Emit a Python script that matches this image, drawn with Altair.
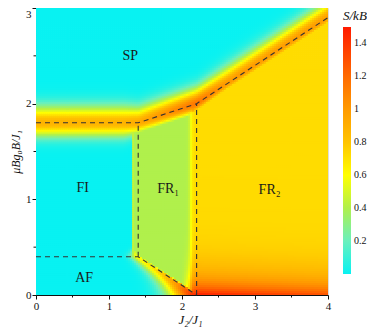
import altair as alt
import numpy as np
import pandas as pd

alt.data_transformers.disable_max_rows()

# ---------------- values ----------------
# dashed phase boundaries (J2/J1, mu_B g0 B / J1)
UPPER_X = [0.0, 1.4, 2.2, 4.0]
UPPER_Y = [1.8, 1.8, 2.0, 2.9]
LOWER_X = [0.0, 1.4, 2.2]
LOWER_Y = [0.4, 0.4, 0.0]
VERT_X = [1.4, 2.2]
VERT_Y0 = [0.4, 0.0]
VERT_Y1 = [1.8, 2.0]

# colour edges of the plateaus
EDGE_FI_FR1 = 1.335
EDGE_FR1_FR2 = 2.12

# entropy plateaus (S/kB)
LEVEL_FR1 = 0.40
LEVEL_FR2 = 0.72

# ridge along the upper (saturation) boundary
RIDGE_UP_X = [0.0, 1.2, 1.4, 2.2, 2.6, 4.0]
RIDGE_UP_A = [0.88, 0.88, 0.92, 1.15, 1.0, 0.98]
RIDGE_UP_SA = [0.17, 0.17, 0.16, 0.16, 0.17, 0.17]
RIDGE_UP_SB = [0.14, 0.14, 0.11, 0.10, 0.09, 0.09]

# ridge along the AF / FR1 diagonal
DIAG_Y = [0.0, 0.1, 0.2, 0.3, 0.4]
DIAG_A = [1.45, 1.08, 0.84, 0.70, 0.62]
DIAG_SL = [0.34, 0.27, 0.21, 0.16, 0.11]
DIAG_SR = 0.045

# rise at the bottom of FR2
BOTTOM_X = [2.0, 2.15, 2.2, 3.0, 4.0]
BOTTOM_A = [0.0, 0.72, 0.78, 0.68, 0.58]
BOTTOM_TAU = 0.17

# rounded corners (x, y, amplitude, width_x, width_y)
BLOB_X = [1.36, 1.36, 2.15]
BLOB_Y = [1.77, 0.43, 1.95]
BLOB_A = [0.72, 0.55, 1.0]
BLOB_SX = [0.10, 0.06, 0.07]
BLOB_SY = [0.09, 0.05, 0.07]

# colour bar
CB_STOPS = [0.0, 0.2, 0.4, 0.6, 0.8, 1.0, 1.2, 1.5]
CB_COLORS = ["#08f2f2", "#6af0bd", "#b0f04c", "#ffff00", "#ffc400",
             "#ff9a00", "#ff6a00", "#ff1a00"]
CB_TICKS = [0.2, 0.4, 0.6, 0.8, 1.0, 1.2, 1.4]

# region labels
LABELS = ["SP", "FI", "FR₁", "FR₂", "AF"]
LABEL_X = [1.29, 0.64, 1.81, 3.2, 0.66]
LABEL_Y = [2.5, 1.12, 1.11, 1.1, 0.175]

X_TICKS = [0, 1, 2, 3, 4]
Y_TICKS = [0, 1, 2, 3]
X_MINOR = [0.5, 1.5, 2.5, 3.5]
Y_MINOR = [0.5, 1.5, 2.5]

# ---------------- build the entropy map ----------------
NX, NY = 146, 144
xe = np.linspace(0, 4, NX + 1)
ye = np.linspace(0, 3, NY + 1)
xc = (xe[:-1] + xe[1:]) / 2
yc = (ye[:-1] + ye[1:]) / 2
X, Y = np.meshgrid(xc, yc)


def sig(z):
    return 1.0 / (1.0 + np.exp(-z))


bu = np.interp(X, UPPER_X, UPPER_Y)
bl = np.where(X < 2.2, np.interp(X, LOWER_X, LOWER_Y), -1.0)
inside = (Y <= bu) & (Y >= bl)
fr = LEVEL_FR1 * sig((X - EDGE_FI_FR1) / 0.008) + \
    (LEVEL_FR2 - LEVEL_FR1) * sig((X - EDGE_FR1_FR2) / 0.015)
base = np.where(inside, fr, 0.0)

d = Y - bu
s_up = np.where(d > 0, np.interp(X, RIDGE_UP_X, RIDGE_UP_SA),
                np.interp(X, RIDGE_UP_X, RIDGE_UP_SB))
p_up = np.interp(X, RIDGE_UP_X, RIDGE_UP_A) * np.exp(-(d / s_up) ** 2)

mask_v = sig((bu + 0.02 - Y) / 0.02) * sig((Y - 0.38) / 0.02)
p_v = 0.5 * np.exp(-((X - EDGE_FI_FR1) / 0.018) ** 2) * mask_v

yd = np.clip(Y, 0, 0.4)
xd = 2.2 - 2.0 * yd
h = X - xd
s_d = np.where(h < 0, np.interp(yd, DIAG_Y, DIAG_SL), DIAG_SR)
a_d = np.interp(yd, DIAG_Y, DIAG_A) * np.where(Y > 0.4, np.exp(-((Y - 0.4) / 0.05) ** 2), 1.0)
p_d = a_d * np.exp(-(h / s_d) ** 2)

p_b = np.where(inside & (X > 2.0),
               fr + np.interp(X, BOTTOM_X, BOTTOM_A) * np.exp(-Y / BOTTOM_TAU), 0.0)

blobs = [a * np.exp(-((X - bx) / sx) ** 2 - ((Y - by) / sy) ** 2)
         for bx, by, a, sx, sy in zip(BLOB_X, BLOB_Y, BLOB_A, BLOB_SX, BLOB_SY)]

V = np.maximum.reduce([base, p_up, p_v, p_d, p_b] + blobs)
V = np.clip(V, 0, 1.5)

ox = 0.011
oy = 0.008
heat = pd.DataFrame({
    "x": np.repeat(xe[:-1][None, :], NY, axis=0).ravel().round(4),
    "x2": (np.repeat(xe[1:][None, :], NY, axis=0).ravel() + ox).clip(0, 4).round(4),
    "y": np.repeat(ye[:-1][:, None], NX, axis=1).ravel().round(4),
    "y2": (np.repeat(ye[1:][:, None], NX, axis=1).ravel() + oy).clip(0, 3).round(4),
    "v": V.ravel().round(3),
})

# dashed lines
seg_rows = []
for i, (xx, yy) in enumerate(zip(UPPER_X, UPPER_Y)):
    seg_rows.append({"seg": "upper", "o": i, "x": xx, "y": yy})
for i, (xx, yy) in enumerate(zip(LOWER_X, LOWER_Y)):
    seg_rows.append({"seg": "lower", "o": i, "x": xx, "y": yy})
for k, (xx, y0, y1) in enumerate(zip(VERT_X, VERT_Y0, VERT_Y1)):
    seg_rows.append({"seg": f"v{k}", "o": 0, "x": xx, "y": y0})
    seg_rows.append({"seg": f"v{k}", "o": 1, "x": xx, "y": y1})
segs = pd.DataFrame(seg_rows)

labels = pd.DataFrame({"t": LABELS, "x": LABEL_X, "y": LABEL_Y})

W, H = 292, 287
FONT = "Liberation Serif"

xs = alt.Scale(domain=[0, 4], nice=False, zero=False)
ys = alt.Scale(domain=[0, 3], nice=False, zero=False)

heat_layer = alt.Chart(heat).mark_rect(strokeWidth=0).encode(
    x=alt.X("x:Q", scale=xs, axis=alt.Axis(
        values=X_TICKS, format="d", title="J₂/J₁", titleFontStyle="italic",
        titleFontWeight="normal", titleFontSize=13, titleFont=FONT, titlePadding=2,
        titleX=154, labelFont=FONT, labelFontSize=11, labelPadding=1, tickSize=4,
        tickColor="#111", domainColor="#111", labelColor="#111", titleColor="#111",
        grid=False, labelFlush=False)),
    x2="x2:Q",
    y=alt.Y("y:Q", scale=ys, axis=alt.Axis(
        values=Y_TICKS, format="d", title="μBg₀B/J₁", titleFontStyle="italic",
        titleFontWeight="normal", titleFontSize=12, titleFont=FONT, titlePadding=3,
        labelFont=FONT, labelFontSize=11, labelPadding=1, tickSize=4,
        labelBaseline={"condition": {"test": "datum.value == 3", "value": "top"},
                       "value": "middle"},
        tickColor="#111", domainColor="#111", labelColor="#111", titleColor="#111",
        grid=False, labelFlush=False)),
    y2="y2:Q",
    color=alt.Color("v:Q", scale=alt.Scale(domain=CB_STOPS, range=CB_COLORS,
                                           interpolate="rgb", clamp=True),
                    legend=alt.Legend(
                        title="S/kB", titleFont=FONT, titleFontSize=13,
                        titleFontStyle="italic", titleFontWeight="normal",
                        titleColor="#111", titlePadding=4,
                        values=CB_TICKS, format="~g", labelFont=FONT,
                        labelFontSize=10, labelColor="#111", labelOffset=3,
                        gradientLength=247, gradientThickness=8,
                        gradientStrokeWidth=0,
                        orient="none", legendX=307, legendY=2, direction="vertical")),
)

line_layer = alt.Chart(segs).mark_line(
    color="#333", strokeDash=[5, 4], strokeWidth=1.1).encode(
    x=alt.X("x:Q", scale=xs), y=alt.Y("y:Q", scale=ys), detail="seg:N", order="o:Q")

text_layer = alt.Chart(labels).mark_text(
    font=FONT, fontSize=14, color="#1a1a1a").encode(
    x=alt.X("x:Q", scale=xs), y=alt.Y("y:Q", scale=ys), text="t:N")

xminor = alt.Chart(pd.DataFrame({"m": X_MINOR})).mark_rule(
    color="#111", strokeWidth=1).encode(
    x=alt.X("m:Q", scale=xs), y=alt.value(H), y2=alt.value(H + 2.5))
yminor = alt.Chart(pd.DataFrame({"m": Y_MINOR})).mark_rule(
    color="#111", strokeWidth=1).encode(
    y=alt.Y("m:Q", scale=ys), x=alt.value(-2.5), x2=alt.value(0))

chart = alt.layer(heat_layer, line_layer, text_layer, xminor, yminor).properties(
    width=W, height=H,
    autosize=alt.AutoSizeParams(type="none"),
    padding={"left": 28, "top": 0, "right": 39, "bottom": 36},
).configure_view(stroke="#444", strokeWidth=1.5).configure(background="white")

chart.save("out.html", embed_options={"renderer": "svg", "actions": False})
